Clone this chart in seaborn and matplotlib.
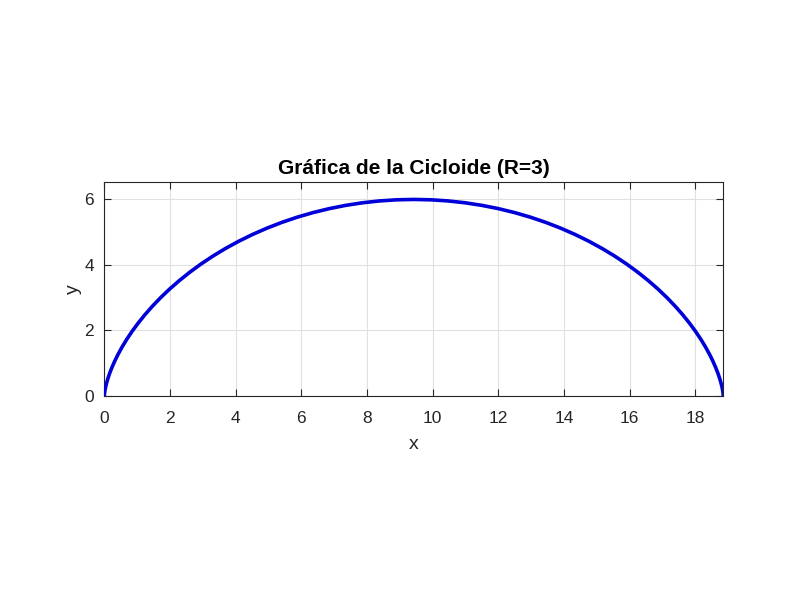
import matplotlib
matplotlib.use("Agg")
import matplotlib.pyplot as plt
import seaborn as sns
import pandas as pd

# Points (R = 3)
x_vals = [0.0, 0.0003, 0.0027, 0.0089, 0.0211, 0.0411, 0.0708, 0.1119, 0.1660,
          0.2349, 0.3199, 0.4223, 0.5435, 0.6845, 0.8461, 1.0292, 1.2344, 1.4620,
          1.7124, 1.9856, 2.2816, 2.6000, 2.9405, 3.3025, 3.6851, 4.0875, 4.5087,
          4.9473, 5.4020, 5.8715, 6.3540, 6.8479, 7.3515, 7.8629, 8.3802, 8.9015,
          9.4248,
          9.9481, 10.4694, 10.9866, 11.4981, 12.0016, 12.4956, 12.9781, 13.4476,
          13.9023, 14.3409, 14.7620, 15.1645, 15.5471, 15.9091, 16.2496, 16.5680,
          16.8640, 17.1372, 17.3876, 17.6152, 17.8204, 18.0035, 18.1651, 18.3061,
          18.4272, 18.5297, 18.6147, 18.6836, 18.7377, 18.7788, 18.8084, 18.8285,
          18.8407, 18.8469, 18.8493, 18.8496]
y_vals = [0.0, 0.0114, 0.0456, 0.1022, 0.1809, 0.2811, 0.4019, 0.5425, 0.7019,
          0.8787, 1.0716, 1.2793, 1.5, 1.7322, 1.9739, 2.2235, 2.4791, 2.7385,
          3.0, 3.2615, 3.5209, 3.7765, 4.0261, 4.2679, 4.5, 4.7207, 4.9284,
          5.1213, 5.2981, 5.4575, 5.5981, 5.7189, 5.8191, 5.8978, 5.9544, 5.9886,
          6.0,
          5.9886, 5.9544, 5.8978, 5.8191, 5.7189, 5.5981, 5.4575, 5.2981,
          5.1213, 4.9284, 4.7207, 4.5, 4.2679, 4.0261, 3.7765, 3.5209,
          3.2615, 3.0, 2.7385, 2.4791, 2.2235, 1.9739, 1.7322, 1.5,
          1.2793, 1.0716, 0.8787, 0.7019, 0.5425, 0.4019, 0.2811, 0.1809,
          0.1022, 0.0456, 0.0114, 0.0]
x_ticks = [0, 2, 4, 6, 8, 10, 12, 14, 16, 18]
y_ticks = [0, 2, 4, 6]
title = "Gráfica de la Cicloide (R=3)"

df = pd.DataFrame({"x": x_vals, "y": y_vals})

sns.set_theme(style="white")
plt.rcParams["font.family"] = ["Liberation Sans", "DejaVu Sans"]

fig = plt.figure(figsize=(8, 6), dpi=100)
ax = fig.add_axes([0.1304, 0.34, 0.7737, 0.356])

sns.lineplot(data=df, x="x", y="y", sort=False, estimator=None,
             color="#0000d8", linewidth=2.6, ax=ax, zorder=3)

ax.set_xlim(0, 18.8496)
ax.set_ylim(0, 6.52)
ax.set_xticks(x_ticks)
ax.set_yticks(y_ticks)
ax.grid(True, color="#e0e0e0", linewidth=0.8)
ax.set_axisbelow(True)
for s in ax.spines.values():
    s.set_visible(True)
    s.set_color("#262626")
    s.set_linewidth(0.8)
ax.tick_params(direction="in", length=5, width=0.8, colors="#262626",
               labelsize=12.5, top=True, right=True, bottom=True, left=True,
               labelcolor="#262626")
ax.tick_params(axis="x", pad=11)
ax.tick_params(axis="y", pad=7.5)
ax.set_xlabel("x", fontsize=14, color="#262626", labelpad=7)
ax.set_ylabel("y", fontsize=14, color="#262626", labelpad=2)
ax.set_title(title, fontsize=15, fontweight="bold", color="black", pad=6)

fig.savefig("out.png", dpi=100, facecolor="white")
